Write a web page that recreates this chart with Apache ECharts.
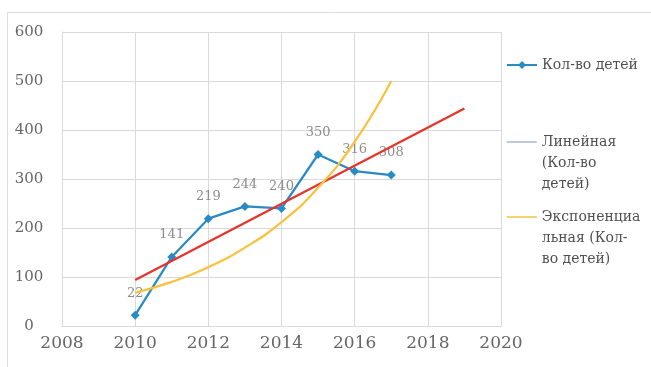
<!DOCTYPE html>
<html>
<head>
<meta charset="utf-8">
<script src="https://cdn.jsdelivr.net/npm/echarts@6/dist/echarts.min.js"></script>
<style>
  html, body { margin: 0; padding: 0; background: #fff; }
  #chart { width: 651px; height: 367px; }
</style>
</head>
<body>
<div id="chart"></div>
<script>
// Number of children per year
const years = [2010, 2011, 2012, 2013, 2014, 2015, 2016, 2017];
const children = [22, 141, 219, 244, 240, 350, 316, 308];

// Linear trend, extended two years forward
const linearYears = [2010, 2019];
const linearValues = [94, 444];

// Exponential trend values per year
const expYears = [2010, 2011, 2012, 2013, 2014, 2015, 2016, 2017];
const expValues = [68, 90, 120, 160, 212, 282, 376, 500];

// Axis ticks
const xTicks = [2008, 2010, 2012, 2014, 2016, 2018, 2020];
const yTicks = [0, 100, 200, 300, 400, 500, 600];

const NAME_MAIN = 'Кол-во детей';
const NAME_LIN = 'Линейная (Кол-во детей)';
const NAME_EXP = 'Экспоненциальная (Кол-во детей)';

const legendText = {};
legendText[NAME_MAIN] = 'Кол-во детей';
legendText[NAME_LIN] = '\n\nЛинейная\n(Кол-во\nдетей)';
legendText[NAME_EXP] = '\n\nЭкспоненциа\nльная (Кол-\nво детей)';

const pair = (xs, ys) => xs.map((x, i) => [x, ys[i]]);

const serif = 'DejaVu Serif';
const gridColor = '#dadada';

const legendBase = {
  orient: 'vertical',
  left: 506,
  padding: 0,
  itemWidth: 30,
  itemHeight: 10,
  selectedMode: false,
  formatter: n => legendText[n],
  textStyle: { fontFamily: serif, fontSize: 14, color: '#505050', lineHeight: 21 }
};

const chart = echarts.init(document.getElementById('chart'), null, { renderer: 'canvas' });
chart.setOption({
  animation: false,
  backgroundColor: '#ffffff',
  graphic: [{
    type: 'rect',
    silent: true,
    shape: { x: 7.5, y: 12.5, width: 700, height: 400 },
    style: { fill: 'none', stroke: '#dcdcdc', lineWidth: 1 }
  }],
  grid: { left: 62, right: 150, top: 32, bottom: 41 },
  xAxis: {
    type: 'value',
    min: xTicks[0],
    max: xTicks[xTicks.length - 1],
    interval: 2,
    axisLine: { show: true, lineStyle: { color: gridColor } },
    axisTick: { show: false },
    splitLine: { show: true, lineStyle: { color: gridColor } },
    axisLabel: { fontFamily: serif, fontSize: 17, color: '#666', margin: 9, formatter: v => String(v) }
  },
  yAxis: {
    type: 'value',
    min: yTicks[0],
    max: yTicks[yTicks.length - 1],
    interval: 100,
    axisLine: { show: true, lineStyle: { color: gridColor } },
    axisTick: { show: false },
    splitLine: { show: true, lineStyle: { color: gridColor } },
    axisLabel: { fontFamily: serif, fontSize: 15, color: '#666', margin: 33, align: 'center' }
  },
  legend: [
    Object.assign({}, legendBase, { top: 54.5, data: [NAME_MAIN] }),
    Object.assign({}, legendBase, { top: 89.5, data: [{ name: NAME_LIN, itemStyle: { opacity: 0 }, lineStyle: { color: '#a9b9cc', width: 1.5 } }] }),
    Object.assign({}, legendBase, { top: 164.5, data: [{ name: NAME_EXP, itemStyle: { opacity: 0 }, lineStyle: { color: '#f7c240', width: 1.5 } }] })
  ],
  series: [
    {
      name: NAME_MAIN,
      type: 'line',
      data: pair(years, children),
      symbol: 'diamond',
      symbolSize: 9,
      z: 2,
      lineStyle: { color: '#2a8ac4', width: 2.25 },
      itemStyle: { color: '#2a8ac4' },
      label: {
        show: true,
        position: 'top',
        distance: 11,
        fontFamily: serif,
        fontSize: 13,
        color: '#8c8c8c',
        formatter: p => p.value[1]
      }
    },
    {
      name: NAME_LIN,
      type: 'line',
      data: pair(linearYears, linearValues),
      symbol: 'none',
      z: 3,
      lineStyle: { color: '#e5342c', width: 2.25 },
      itemStyle: { color: '#e5342c' }
    },
    {
      name: NAME_EXP,
      type: 'line',
      data: pair(expYears, expValues),
      symbol: 'none',
      smooth: true,
      z: 3,
      lineStyle: { color: '#f7c240', width: 2.25 },
      itemStyle: { color: '#f7c240' }
    }
  ]
});
</script>
</body>
</html>
